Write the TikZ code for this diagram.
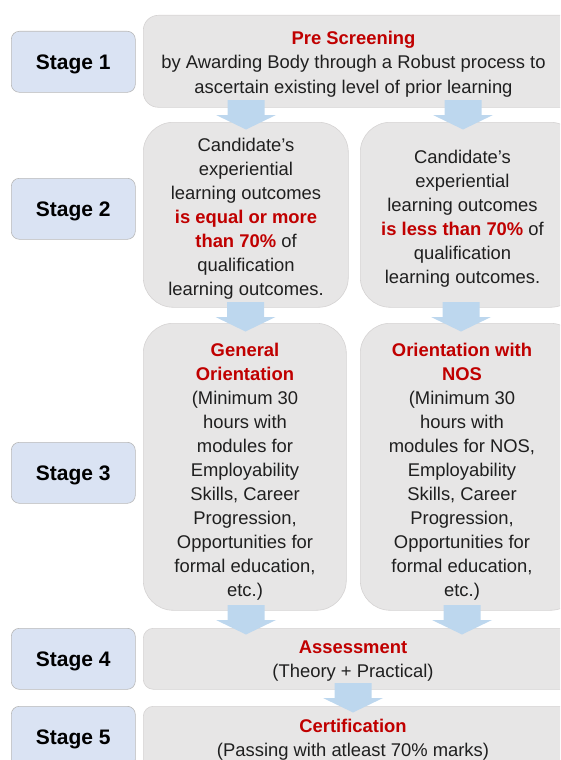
\documentclass[tikz,border=0pt]{standalone}
\usepackage{fontspec}
\setmainfont{Liberation Sans}
\definecolor{boxgray}{HTML}{E7E6E6}
\definecolor{boxline}{HTML}{D5D3D3}
\definecolor{stagefill}{HTML}{DAE3F3}
\definecolor{stageline}{HTML}{B8B8B8}
\definecolor{arrowblue}{HTML}{BDD7EE}
\definecolor{hired}{HTML}{C00000}
\newcommand\redb[1]{\textcolor{hired}{\bfseries #1}}
\tikzset{
  graybox/.style={draw=boxline, line width=0.6pt, fill=boxgray, inner sep=0pt, anchor=north west},
  stagebox/.style={draw=stageline, line width=0.6pt, fill=stagefill, rounded corners=8pt,
    minimum width=124pt, minimum height=61pt, anchor=north west, inner sep=0pt,
    font=\fontsize{21}{24}\selectfont\bfseries, text height=15pt, text depth=0pt},
  txt/.style={anchor=base, inner sep=0pt, font=\fontsize{18.4}{24}\selectfont, text=black!88},
  blockarrow/.pic={
    \fill[arrowblue] (-18.5,0) -- (18.5,0) -- (18.5,15) -- (30,15) -- (0,29.5) -- (-30,15) -- (-18.5,15) -- cycle;
  }
}
\begin{document}
\begin{tikzpicture}[x=1pt,y=-1pt]
\useasboundingbox (0,0) rectangle (560,760);
\clip (0,0) rectangle (560,760);

% stage labels
\node[stagebox] (st1) at (11,31) {Stage 1};
\node[stagebox] (st2) at (11,178) {Stage 2};
\node[stagebox] (st3) at (11,442) {Stage 3};
\node[stagebox] (st4) at (11,628) {Stage 4};
\node[stagebox] (st5) at (11,706) {Stage 5};

% content boxes
\node[graybox, rounded corners=15pt, minimum width=432pt, minimum height=92pt] (b1) at (143,15) {};
\node[graybox, rounded corners=30pt, minimum width=205pt, minimum height=185pt] (b2l) at (143,122) {};
\node[graybox, rounded corners=30pt, minimum width=220pt, minimum height=185pt] (b2r) at (360,122) {};
\node[graybox, rounded corners=30pt, minimum width=203pt, minimum height=287pt] (b3l) at (143,323) {};
\node[graybox, rounded corners=30pt, minimum width=220pt, minimum height=287pt] (b3r) at (360,323) {};
\node[graybox, rounded corners=10pt, minimum width=432pt, minimum height=61pt] (b4) at (143,628) {};
\node[graybox, rounded corners=10pt, minimum width=432pt, minimum height=84pt] (b5) at (143,706) {};

% block arrows
\pic (a1l) at (246,100) {blockarrow};
\pic (a1r) at (463,100) {blockarrow};
\pic (a2l) at (245.5,302) {blockarrow};
\pic (a2r) at (461,302) {blockarrow};
\pic (a3l) at (246,605) {blockarrow};
\pic (a3r) at (462,605) {blockarrow};
\pic (a4) at (353,683) {blockarrow};

% texts
\foreach \t [count=\i] in {{\redb{Pre Screening}},
  {by Awarding Body through a Robust process to},
  {ascertain existing level of prior learning}}
  \node[txt] (t1-\i) at (353.5,{45+24*(\i-1)}) {\t};

\foreach \t [count=\i] in {{Candidate’s},{experiential},{learning outcomes},
  {\redb{is equal or more}},{\redb{than 70\%} of},{qualification},{learning outcomes.}}
  \node[txt] (t2l-\i) at (246,{151+24*(\i-1)}) {\t};

\foreach \t [count=\i] in {{Candidate’s},{experiential},{learning outcomes},
  {\redb{is less than 70\%} of},{qualification},{learning outcomes.}}
  \node[txt] (t2r-\i) at (462.5,{163+24*(\i-1)}) {\t};

\foreach \t [count=\i] in {{\redb{General}},{\redb{Orientation}},{(Minimum 30},{hours with},
  {modules for},{Employability},{Skills, Career},{Progression,},{Opportunities for},
  {formal education,},{etc.)}}
  \node[txt] (t3l-\i) at (245,{356+24*(\i-1)}) {\t};

\foreach \t [count=\i] in {{\redb{Orientation with}},{\redb{NOS}},{(Minimum 30},{hours with},
  {modules for NOS,},{Employability},{Skills, Career},{Progression,},{Opportunities for},
  {formal education,},{etc.)}}
  \node[txt] (t3r-\i) at (462,{356+24*(\i-1)}) {\t};

\node[txt] (t4-1) at (353,653) {\redb{Assessment}};
\node[txt] (t4-2) at (353,677) {(Theory + Practical)};
\node[txt] (t5-1) at (353,732) {\redb{Certification}};
\node[txt] (t5-2) at (353,756) {(Passing with atleast 70\% marks)};
\end{tikzpicture}
\end{document}
